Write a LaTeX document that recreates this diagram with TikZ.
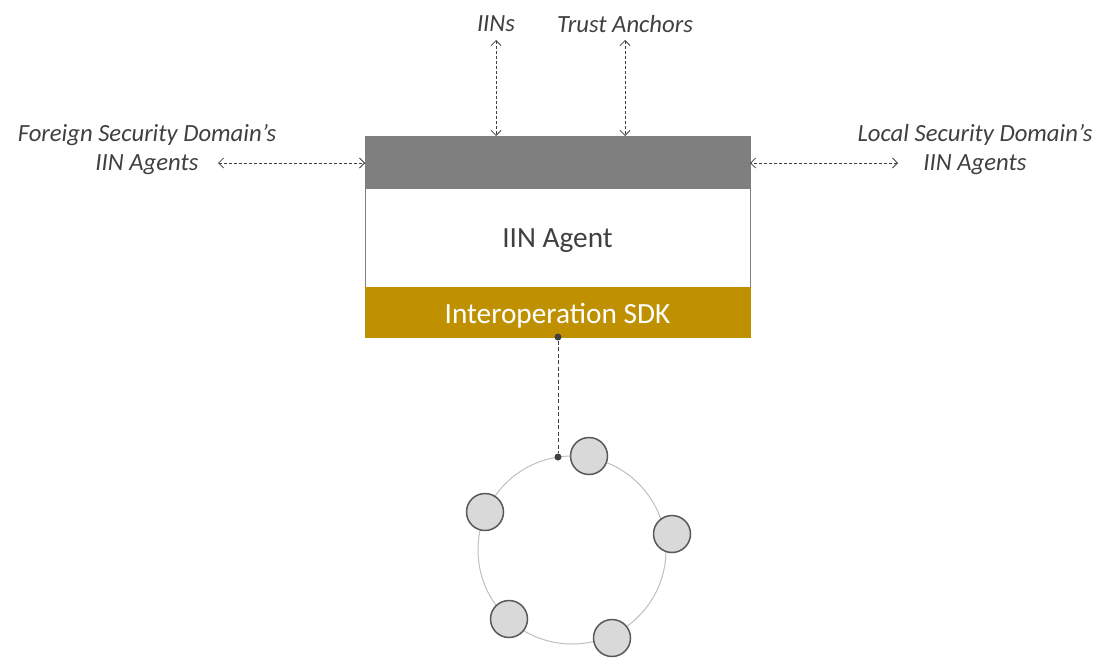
\documentclass[tikz,border=0pt]{standalone}
\usepackage{fontspec}
\setmainfont{Carlito}
\usetikzlibrary{arrows.meta}
\definecolor{txt}{HTML}{404040}
\definecolor{hdr}{HTML}{7F7F7F}
\definecolor{gold}{HTML}{BF9000}
\definecolor{nodefill}{HTML}{D9D9D9}
\definecolor{nodeline}{HTML}{595959}
\tikzset{
  lbl/.style={text=txt,font=\fontsize{24.7}{28}\selectfont\itshape,inner sep=0pt,align=center},
  link/.style={draw=txt,line width=0.8pt,dash pattern=on 3pt off 2pt,{Straight Barb[length=5pt,width=10pt]}-{Straight Barb[length=5pt,width=10pt]}},
  peer/.style={circle,draw=nodeline,fill=nodefill,line width=1.5pt,minimum size=37pt,inner sep=0pt},
  dot/.style={circle,fill=txt,minimum size=7pt,inner sep=0pt},
}
\begin{document}
\begin{tikzpicture}[x=1pt,y=-1pt]
\useasboundingbox (0,0) rectangle (1113,658);
% agent box
\node[draw=hdr,line width=1pt,minimum width=385pt,minimum height=99pt,inner sep=0pt] (agent) at (557.5,237.5) {};
\node[text=txt,font=\fontsize{29.3}{34}\selectfont,inner sep=0pt] (agentlbl) at (557.5,241) {IIN Agent};
\node[fill=hdr,minimum width=386pt,minimum height=52pt,inner sep=0pt] (hdrbar) at (557.5,162) {};
\node[fill=gold,minimum width=386pt,minimum height=51pt,inner sep=0pt] (sdk) at (557.5,312.5) {};
\node[text=white,font=\fontsize{29.3}{34}\selectfont,inner sep=0pt] (sdklbl) at (557.5,315.5) {Interoperation SDK};
% labels
\node[lbl] (iins) at (496,24) {IINs};
\node[lbl] (ta) at (625,24) {Trust Anchors};
\node[lbl] (foreign1) at (147,135) {Foreign Security Domain’s};
\node[lbl] (foreign2) at (147,165) {IIN Agents};
\node[lbl] (local1) at (975,135) {Local Security Domain’s};
\node[lbl] (local2) at (975,165) {IIN Agents};
\coordinate (iinsIn) at (496,136);
\coordinate (taIn) at (625,136);
\coordinate (fIn) at (365,163);
\coordinate (lIn) at (750,163);
\coordinate (fOut) at (218,163);
\coordinate (lOut) at (898,163);
\coordinate (iinsOut) at (496,40);
\coordinate (taOut) at (625,40);
\draw[link] (iinsOut) -- (iinsIn);
\draw[link] (taOut) -- (taIn);
\draw[link] (fOut) -- (fIn);
\draw[link] (lOut) -- (lIn);
% network
\node[circle,draw=black!25,line width=1pt,minimum size=188pt,inner sep=0pt] (ring) at (572,550) {};
\node[dot] (d1) at (558,337) {};
\node[dot] (d2) at (558,457) {};
\draw[draw=txt,line width=1pt,dash pattern=on 4pt off 2.5pt] (d1) -- (d2);
\node[peer] (p1) at (589,456) {};
\node[peer] (p2) at (485,512) {};
\node[peer] (p3) at (672,534) {};
\node[peer] (p4) at (509,619) {};
\node[peer] (p5) at (612,638) {};
\end{tikzpicture}
\end{document}
